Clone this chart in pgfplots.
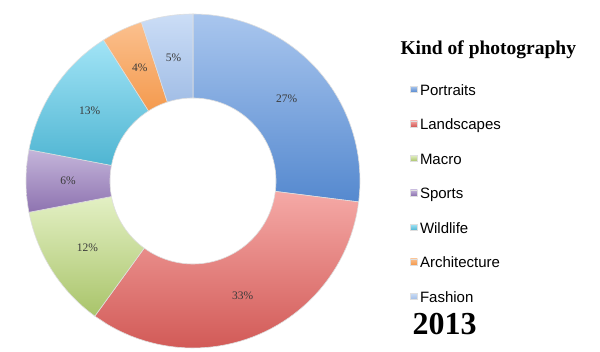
\documentclass[border=0pt]{standalone}
\usepackage{pgfplots}
\pgfplotsset{compat=1.18}
\usepackage{fontspec}
\setmainfont{Liberation Sans}
\newfontfamily\seriffont{Liberation Serif}
\definecolor{labelgray}{HTML}{3A3A3A}
\definecolor{portT}{HTML}{A9C6EE}\definecolor{portB}{HTML}{5589CF}
\definecolor{landT}{HTML}{F5A9A6}\definecolor{landB}{HTML}{D25A57}
\definecolor{macrT}{HTML}{E3F0C4}\definecolor{macrB}{HTML}{A9C46A}
\definecolor{sporT}{HTML}{C4B5DA}\definecolor{sporB}{HTML}{8E73B0}
\definecolor{wildT}{HTML}{A2E4F6}\definecolor{wildB}{HTML}{4FB5D2}
\definecolor{archT}{HTML}{FBC08E}\definecolor{archB}{HTML}{F49A4E}
\definecolor{fashT}{HTML}{CBDDF6}\definecolor{fashB}{HTML}{A2BEE6}
\newcommand\cum{0}
% #1 value (%), #2 top colour, #3 bottom colour, #4 legend name
\newcommand\sector[4]{%
  \pgfmathsetmacro\aS{90-3.6*\cum}%
  \pgfmathsetmacro\aE{90-3.6*(\cum+#1)}%
  \pgfmathsetmacro\aM{((\aS)+(\aE))/2}%
  \edef\doplot{\noexpand\addplot[top color=#2, bottom color=#3, draw=white!75!gray, line width=0.6pt,
      samples at={0,0.02,...,0.98,1,1.00001,1.01,1.03,...,1.99,2}]
    ({193+(x<=1?167:83)*cos(x<=1?(\aS)+((\aE)-(\aS))*x:(\aE)+((\aS)-(\aE))*(x-1))},
     {171+(x<=1?167:83)*sin(x<=1?(\aS)+((\aE)-(\aS))*x:(\aE)+((\aS)-(\aE))*(x-1))}) -- cycle;
    \noexpand\addlegendentry{#4}
    \noexpand\node[font=\noexpand\seriffont\noexpand\fontsize{11.5}{13}\noexpand\selectfont, text=labelgray]
      at (axis cs:{193+125*cos(\aM)},{171+125*sin(\aM)}) {#1\noexpand\%};}%
  \doplot
  \pgfmathsetmacro\cum{\cum+#1}%
  \xdef\cum{\cum}%
}
\begin{document}
\begin{tikzpicture}
\begin{axis}[
  width=600pt, height=352pt, scale only axis,
  xmin=0, xmax=600, ymin=0, ymax=352,
  hide axis, clip=false,
  legend style={at={(axis cs:410,268)}, anchor=north west, draw=none, fill=none,
    inner sep=0pt, row sep=20.5pt,
    font=\fontsize{15}{18}\selectfont,
    nodes={text height=11pt, text depth=3pt, inner sep=0pt},
    /tikz/every even column/.append style={column sep=0pt}},
  legend cell align=left,
  legend image code/.code={\path[#1, line width=0.3pt] (0pt,-1pt) rectangle (7pt,5pt);},
]
\path (axis cs:0,0) rectangle (axis cs:600,352);
\sector{27}{portT}{portB}{\,Portraits}
\sector{33}{landT}{landB}{\,Landscapes}
\sector{12}{macrT}{macrB}{\,Macro}
\sector{6}{sporT}{sporB}{\,Sports}
\sector{13}{wildT}{wildB}{\,Wildlife}
\sector{4}{archT}{archB}{\,Architecture}
\sector{5}{fashT}{fashB}{\,Fashion}
\node[anchor=base west, font=\seriffont\bfseries\fontsize{19.5}{22}\selectfont] at (axis cs:397,297) {Kind of photography};
\node[anchor=base west, font=\seriffont\bfseries\fontsize{32}{36}\selectfont] at (axis cs:409,17) {2013};
\end{axis}
\end{tikzpicture}
\end{document}
